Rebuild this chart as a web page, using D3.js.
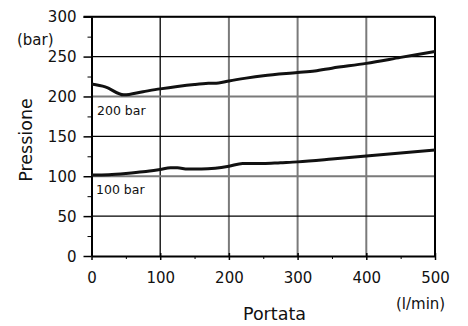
<!DOCTYPE html>
<html><head><meta charset="utf-8">
<script src="https://cdn.jsdelivr.net/npm/d3@7/dist/d3.min.js"></script>
<style>body{margin:0;background:#fff}svg{display:block}text{font-family:"DejaVu Sans",Verdana,sans-serif;fill:#111}</style>
</head><body><svg id="c" width="468" height="326"></svg>
<script>
const flowUpper = [0, 20, 47, 75, 100, 125, 150, 170, 185, 200, 225, 250, 300, 325, 350, 400, 450, 500];
const pressUpper = [215.5, 212, 202, 206, 209.5, 212.5, 215, 216.5, 217, 219.5, 223, 226, 230, 232, 235.5, 241.5, 249, 256.5];
const flowLower = [0, 25, 50, 75, 100, 115, 125, 140, 160, 180, 200, 220, 250, 275, 300, 350, 400, 450, 500];
const pressLower = [101.5, 102, 103.5, 105.5, 108.5, 110.5, 110.5, 109, 109, 110, 112.5, 116, 116, 117, 118, 121.5, 125.5, 129, 133];
const xTicks = [0, 100, 200, 300, 400, 500];
const yTicks = [0, 50, 100, 150, 200, 250, 300];
const curveLabels = ["200 bar", "100 bar"];
const grayX = [200, 300, 400];
const grayY = [100, 200];

const svg = d3.select("#c");
const x = d3.scaleLinear().domain([0, 500]).range([91.5, 435]);
const y = d3.scaleLinear().domain([0, 300]).range([256, 16.7]);

// grid
const g = svg.append("g");
xTicks.slice(1).forEach(v => {
  const gray = grayX.includes(v);
  g.append("line").attr("x1", x(v)).attr("x2", x(v)).attr("y1", y(0)).attr("y2", y(300))
    .attr("stroke", gray ? "#7a7a7a" : "#000").attr("stroke-width", gray ? 2 : 1.3);
});
yTicks.slice(1).forEach(v => {
  const gray = grayY.includes(v);
  g.append("line").attr("x1", x(0)).attr("x2", x(500)).attr("y1", y(v)).attr("y2", y(v))
    .attr("stroke", gray ? "#7a7a7a" : "#000").attr("stroke-width", gray ? 2 : 1.3);
});

// axes
const xAxis = d3.axisBottom(x).tickValues(xTicks).tickSize(4).tickSizeOuter(0);
const xa = svg.append("g").attr("transform", `translate(0,${y(0)})`).call(xAxis);
xa.select(".domain").attr("stroke", "#000").attr("stroke-width", 2);
xa.selectAll(".tick line").attr("y1", -3).attr("stroke-width", 1.5);
xa.selectAll(".tick text").attr("font-size", 15).attr("dy", 0).attr("y", 26.5).style("font-family", '"DejaVu Sans",Verdana,sans-serif').attr("fill", "#111");
const xMinor = d3.axisBottom(x).tickValues([50, 150, 250, 350, 450]).tickSize(3).tickFormat("");
const xm = svg.append("g").attr("transform", `translate(0,${y(0)})`).call(xMinor);
xm.select(".domain").remove();

const yAxis = d3.axisLeft(y).tickValues(yTicks).tickSize(8).tickSizeOuter(0);
const ya = svg.append("g").attr("transform", `translate(${x(0)},0)`).call(yAxis);
ya.select(".domain").attr("stroke", "#000").attr("stroke-width", 2);
ya.selectAll(".tick line").attr("stroke-width", 1.5);
ya.selectAll(".tick text").attr("font-size", 15).attr("x", -15).attr("dy", "0.35em").style("font-family", '"DejaVu Sans",Verdana,sans-serif').attr("fill", "#111");
const yMinor = d3.axisLeft(y).tickValues([25, 75, 125, 175, 225, 275]).tickSize(4).tickFormat("");
const ym = svg.append("g").attr("transform", `translate(${x(0)},0)`).call(yMinor);
ym.select(".domain").remove();

// top/right border
svg.append("line").attr("x1", x(0) - 8).attr("x2", x(500)).attr("y1", y(300)).attr("y2", y(300)).attr("stroke", "#000").attr("stroke-width", 2);
svg.append("line").attr("x1", x(500)).attr("x2", x(500)).attr("y1", y(300)).attr("y2", y(0)).attr("stroke", "#000").attr("stroke-width", 2);

// curves
const line = d3.line().x(d => x(d[0])).y(d => y(d[1])).curve(d3.curveMonotoneX);
[[flowUpper, pressUpper], [flowLower, pressLower]].forEach(([fx, py]) => {
  svg.append("path").datum(fx.map((f, i) => [f, py[i]])).attr("d", line)
    .attr("fill", "none").attr("stroke", "#111").attr("stroke-width", 3).attr("stroke-linejoin", "round");
});

// labels
svg.append("text").attr("x", 97).attr("y", 115).attr("font-size", 12.5).text(curveLabels[0]);
svg.append("text").attr("x", 96).attr("y", 194).attr("font-size", 12.5).text(curveLabels[1]);
svg.append("text").attr("x", 17).attr("y", 45).attr("font-size", 15).text("(bar)");
svg.append("text").attr("x", 396).attr("y", 309).attr("font-size", 15).text("(l/min)");
svg.append("text").attr("x", 274.5).attr("y", 320).attr("font-size", 17.5).attr("text-anchor", "middle").text("Portata");
svg.append("text").attr("transform", "translate(32,140) rotate(-90)").attr("font-size", 17.5).attr("text-anchor", "middle").text("Pressione");
</script></body></html>
